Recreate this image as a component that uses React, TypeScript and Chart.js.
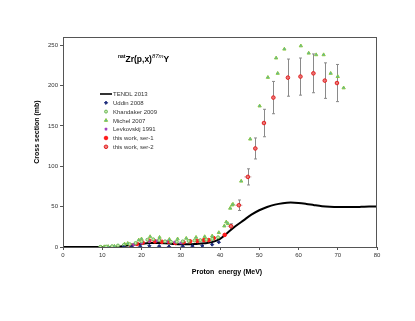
import React, { useEffect, useRef } from 'react';
import { Chart, registerables } from 'chart.js';
import { drawPoint } from 'chart.js/helpers';
Chart.register(...registerables);

const xTicks = [0, 10, 20, 30, 40, 50, 60, 70, 80];
const yTicks = [0, 50, 100, 150, 200, 250];

const tendlE = [0, 10, 14, 16, 18, 20, 22, 24, 26, 28, 30, 32, 34, 36, 38, 40, 42, 44, 46, 48, 50, 52, 54, 56, 58, 60, 62, 64, 66, 68, 70, 72, 74, 76, 78, 80];
const tendlS = [0, 0, 0.3, 1.5, 3, 4, 4.8, 5, 4.6, 3.8, 3.3, 3.3, 3.8, 4.5, 6, 10, 18, 26, 33, 40, 45.5, 49.5, 52.5, 54.3, 55, 54.5, 53.3, 51.8, 50.5, 49.8, 49.5, 49.5, 49.5, 49.7, 50, 50];

const uddinE = [15.5, 17.5, 19.7, 22, 24.5, 27, 30.5, 33, 35.5, 38, 39.7];
const uddinS = [0, 0.3, 0.8, 1.5, 1, 0.5, 0.8, 1, 1.5, 3, 6];

const khandE = [9.5, 11, 12.5, 14, 15.5, 17, 18.5, 20, 21.5, 23, 24.5, 26, 27.5, 29, 30.5, 32, 33.5, 35, 36.5, 38, 39.5];
const khandS = [0.2, 0.5, 1, 1.8, 2.5, 3.5, 5, 7, 9, 9.5, 8.5, 7, 6.5, 6.5, 7, 7.5, 8, 8.5, 9, 10, 12];

const michelE = [9.7, 10.5, 11.5, 13.1, 15.7, 16.5, 19.3, 20, 22.2, 24.6, 27.1, 29.2, 31.4, 33.9, 36.1, 38, 39.7, 41.1, 41.6, 42, 42.6, 43.1, 43.3, 45.4, 47.7, 50.1, 52.2, 54.3, 54.7, 56.4, 60.6, 62.6, 64.5, 66.4, 68.2, 70, 71.5];
const michelS = [0, 0.3, 0.6, 1, 3.7, 4.5, 8.7, 10, 12.8, 12, 9.5, 10, 10.8, 12, 12.8, 13.6, 17.8, 26, 31, 29, 48, 52, 53, 81.5, 133.6, 174.6, 210, 234, 215, 245, 249, 240, 238, 238, 215, 211, 197];

const levkE = [18, 20, 22, 24, 26.5, 28.5, 30];
const levkS = [3, 5, 7, 7.5, 7, 6, 5];

const ser1E = [17.4, 18.9, 20.3, 22, 23.4, 25.2, 26.9, 28.6, 30.7, 32.4, 34.2, 35.9, 37.1, 38.4, 41.2];
const ser1S = [1.6, 3.7, 5.4, 7.8, 7, 6.5, 6.5, 5, 5.8, 7, 7.5, 8.5, 8.5, 11, 15];

const ser2E = [42.8, 44.8, 47.1, 49, 51.2, 53.6, 57.3, 60.5, 63.8, 66.7, 69.8];
const ser2S = [25.7, 51.7, 86.8, 122, 153.5, 185, 209.7, 211, 215, 206, 203];
const ser2Err = [3, 6.5, 10, 13, 17, 20, 23, 23, 24, 22, 23];
const ser2XErr = [0.9, 0.9, 0.9, 0.5, 0.5, 0.3, 0.3, 0.3, 0.3, 0.3, 0.3];

const legendLabels = ['TENDL 2013', 'Uddin 2008', 'Khandaker 2009', 'Michel 2007', 'Levkovskij 1991', 'this work, ser-1', 'this work, ser-2'];

const FONT = '"Liberation Sans", Arial, sans-serif';

const pts = (xs: number[], ys: number[]) => xs.map((x, i) => ({ x, y: ys[i] }));

const errorBars = {
  id: 'errorBars',
  beforeDatasetsDraw(chart: any) {
    const { ctx, scales } = chart;
    const xs = scales.x, ys = scales.y;
    ctx.save();
    ctx.lineWidth = 1;
    for (let i = 0; i < ser2E.length; i++) {
      const px = Math.round(xs.getPixelForValue(ser2E[i])) + 0.5;
      const py = ys.getPixelForValue(ser2S[i]);
      const pTop = ys.getPixelForValue(ser2S[i] + ser2Err[i]);
      const pBot = ys.getPixelForValue(ser2S[i] - ser2Err[i]);
      ctx.strokeStyle = '#8a8a8a';
      ctx.beginPath();
      ctx.moveTo(px, pTop); ctx.lineTo(px, pBot);
      ctx.moveTo(px - 1.5, pTop); ctx.lineTo(px + 1.5, pTop);
      ctx.moveTo(px - 1.5, pBot); ctx.lineTo(px + 1.5, pBot);
      ctx.stroke();
      const pl = xs.getPixelForValue(ser2E[i] - ser2XErr[i]);
      const pr = xs.getPixelForValue(ser2E[i] + ser2XErr[i]);
      ctx.strokeStyle = '#c9a0a0';
      ctx.beginPath();
      ctx.moveTo(pl, py); ctx.lineTo(pr, py);
      ctx.stroke();
    }
    ctx.restore();
  },
};

const decorations = {
  id: 'decorations',
  afterDraw(chart: any) {
    const { ctx, chartArea, data } = chart;
    ctx.save();
    // frame
    ctx.strokeStyle = '#555';
    ctx.lineWidth = 1;
    ctx.strokeRect(chartArea.left + 0.5, chartArea.top + 0.5, chartArea.right - chartArea.left - 1, chartArea.bottom - chartArea.top);

    // title
    ctx.fillStyle = '#000';
    ctx.textBaseline = 'alphabetic';
    ctx.textAlign = 'left';
    let tx = chartArea.left + 55;
    const ty = chartArea.top + 25;
    ctx.font = `bold 5px ${FONT}`;
    ctx.fillText('nat', tx, ty - 4);
    tx += ctx.measureText('nat').width;
    ctx.font = `bold 8.5px ${FONT}`;
    ctx.fillText('Zr(p,x)', tx, ty);
    tx += ctx.measureText('Zr(p,x)').width;
    ctx.font = `italic 6px ${FONT}`;
    ctx.fillText('87m', tx, ty - 4);
    tx += ctx.measureText('87m').width;
    ctx.font = `bold 8.5px ${FONT}`;
    ctx.fillText('Y', tx, ty);

    // legend
    const lx = chartArea.left + 43;
    const ly0 = chartArea.top + 57;
    ctx.font = `6px ${FONT}`;
    ctx.textBaseline = 'middle';
    for (let i = 0; i < legendLabels.length; i++) {
      const y = ly0 + i * 8.8;
      const ds = data.datasets[i];
      if (i === 0) {
        ctx.strokeStyle = '#333';
        ctx.lineWidth = 2;
        ctx.beginPath();
        ctx.moveTo(lx - 6, y); ctx.lineTo(lx + 6, y);
        ctx.stroke();
      } else {
        ctx.fillStyle = ds.backgroundColor;
        ctx.strokeStyle = ds.borderColor;
        ctx.lineWidth = ds.borderWidth || 1;
        drawPoint(ctx, { pointStyle: ds.pointStyle, rotation: 0, radius: ds.pointRadius, borderWidth: ds.borderWidth || 1 }, lx, y);
      }
      ctx.fillStyle = '#333';
      ctx.fillText(legendLabels[i], lx + 7, y + 0.5);
    }

    // axis titles
    ctx.fillStyle = '#000';
    ctx.font = `bold 7px ${FONT}`;
    ctx.textAlign = 'center';
    ctx.textBaseline = 'middle';
    ctx.fillText('Proton  energy (MeV)', chartArea.left + 164, chartArea.bottom + 25);
    ctx.translate(chartArea.left - 26, chartArea.top + 95);
    ctx.rotate(-Math.PI / 2);
    ctx.fillText('Cross section (mb)', 0, 0);
    ctx.restore();
  },
};

export default function App() {
  const ref = useRef<HTMLCanvasElement>(null);
  useEffect(() => {
    if (!ref.current) return;
    const chart = new Chart(ref.current, {
      type: 'scatter',
      data: {
        datasets: [
          {
            label: legendLabels[0], type: 'line', data: pts(tendlE, tendlS),
            borderColor: '#000', backgroundColor: '#000', borderWidth: 2, pointRadius: 0, tension: 0.4, cubicInterpolationMode: 'monotone', order: 10,
          } as any,
          { label: legendLabels[1], data: pts(uddinE, uddinS), pointStyle: 'rectRot', pointRadius: 1.6, backgroundColor: '#1a2a7a', borderColor: '#1a2a7a', borderWidth: 1 },
          { label: legendLabels[2], data: pts(khandE, khandS), pointStyle: 'circle', pointRadius: 1.5, backgroundColor: '#c8e8a8', borderColor: '#6ab85a', borderWidth: 1 },
          { label: legendLabels[3], data: pts(michelE, michelS), pointStyle: 'triangle', pointRadius: 1.9, backgroundColor: '#40a8d0', borderColor: '#8cc840', borderWidth: 1 },
          { label: legendLabels[4], data: pts(levkE, levkS), pointStyle: 'crossRot', pointRadius: 1.6, backgroundColor: '#a040c0', borderColor: '#a040c0', borderWidth: 1.3 },
          { label: legendLabels[5], data: pts(ser1E, ser1S), pointStyle: 'circle', pointRadius: 1.8, backgroundColor: '#ff1a1a', borderColor: '#ff1a1a', borderWidth: 1 },
          { label: legendLabels[6], data: pts(ser2E, ser2S), pointStyle: 'circle', pointRadius: 1.8, backgroundColor: 'rgba(240,110,110,0.9)', borderColor: '#e02020', borderWidth: 1 },
        ],
      },
      options: {
        responsive: false,
        animation: false,
        layout: { padding: { left: 0, top: 37, right: 38, bottom: 40 } },
        plugins: { legend: { display: false }, tooltip: { enabled: false } },
        scales: {
          x: {
            type: 'linear', min: 0, max: 80,
            afterFit: (s: any) => { s.height = 34; },
            afterBuildTicks: (s: any) => { s.ticks = xTicks.map((v) => ({ value: v })); },
            ticks: { font: { size: 6, family: FONT }, color: '#333', padding: 2, maxRotation: 0 },
            grid: { drawOnChartArea: false, drawTicks: true, tickLength: 3, color: '#555' },
            border: { color: '#555', width: 1 },
          },
          y: {
            type: 'linear', min: 0, max: 260,
            afterFit: (s: any) => { s.width = 63; },
            afterBuildTicks: (s: any) => { s.ticks = yTicks.map((v) => ({ value: v })); },
            ticks: { font: { size: 6, family: FONT }, color: '#333', padding: 2 },
            grid: { drawOnChartArea: false, drawTicks: true, tickLength: 3, color: '#555' },
            border: { color: '#555', width: 1 },
          },
        },
      },
      plugins: [errorBars, decorations],
    });
    return () => chart.destroy();
  }, []);
  return (
    <div style={{ position: 'absolute', left: 0, top: 0, width: 415, height: 321, background: '#fff' }}>
      <canvas ref={ref} width={415} height={321} style={{ width: 415, height: 321 }} />
    </div>
  );
}
